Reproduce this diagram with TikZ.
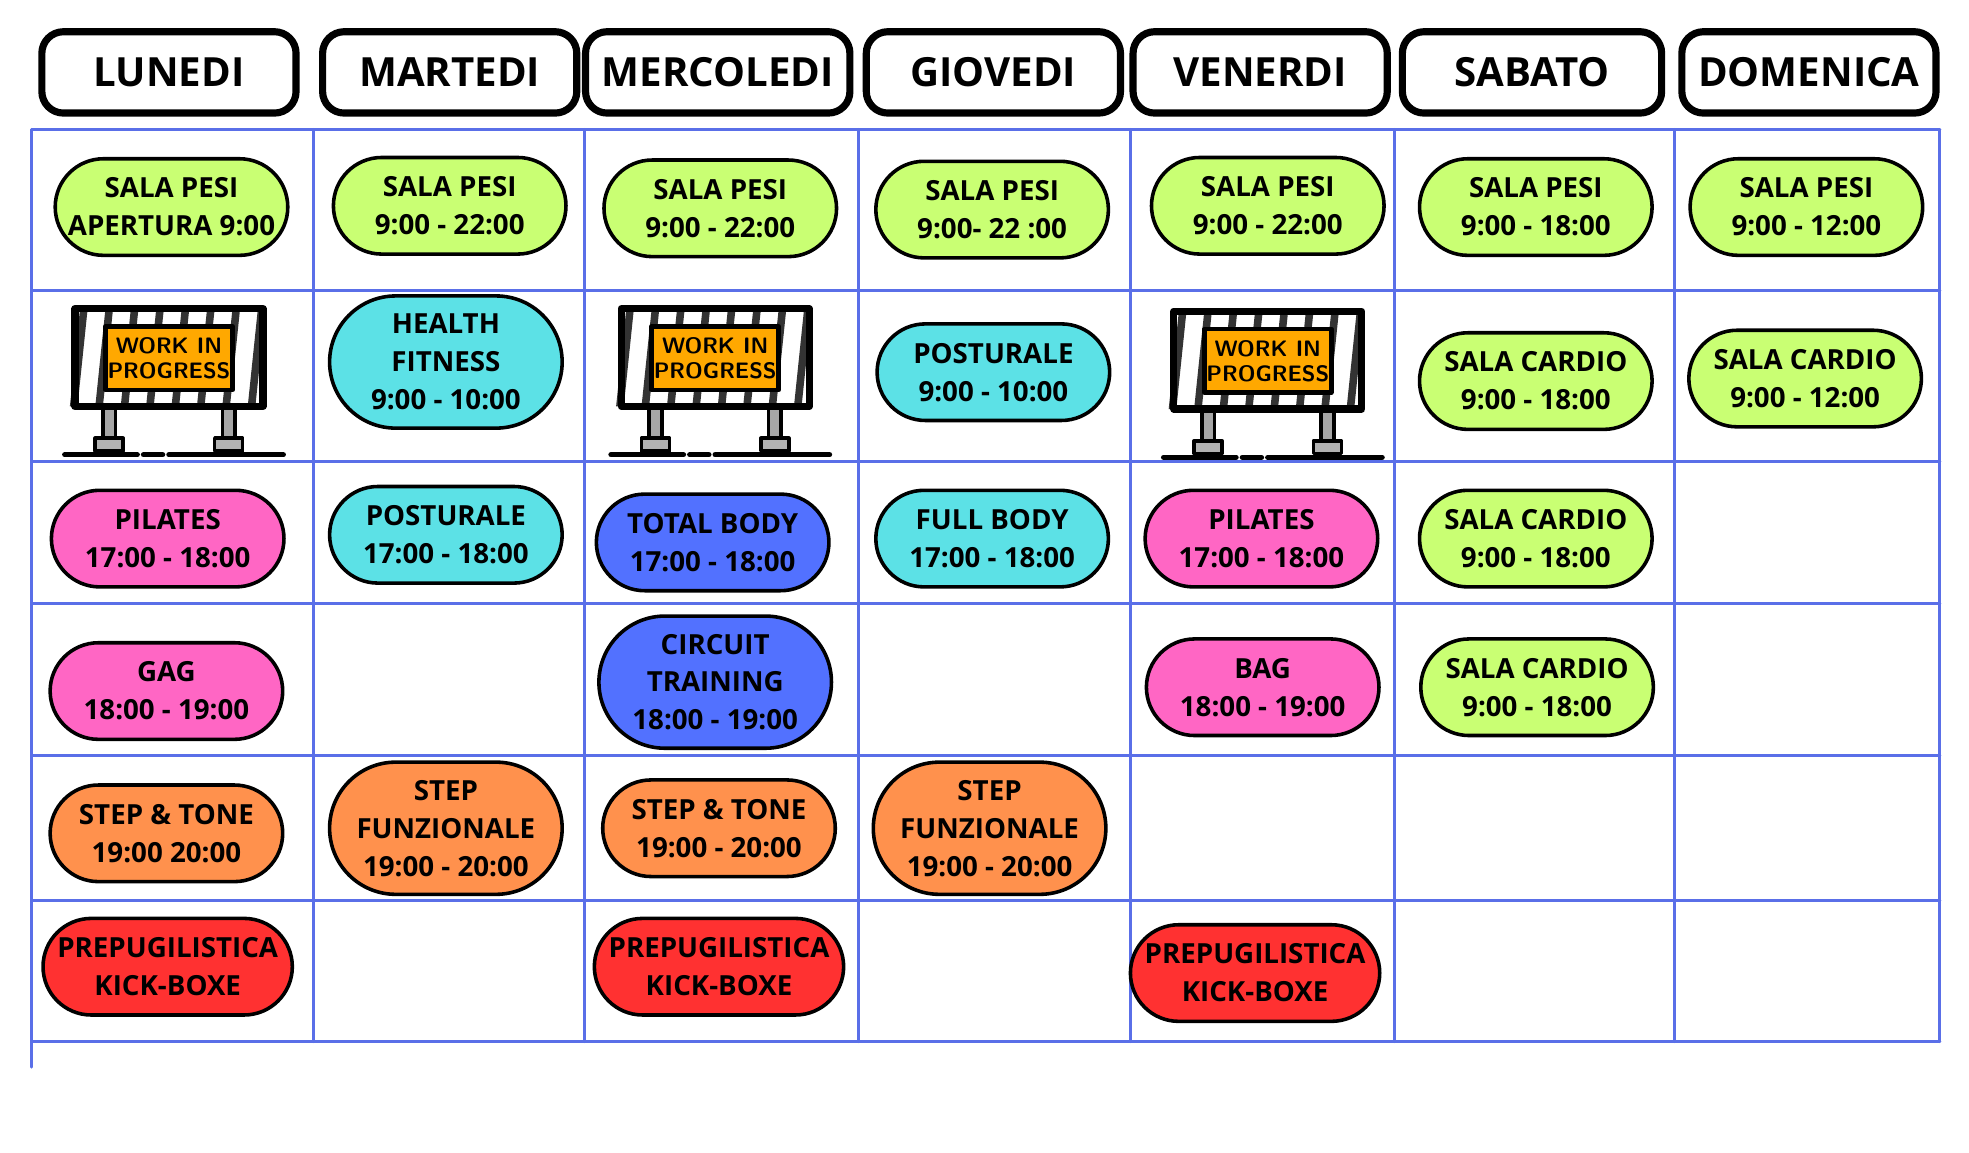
\documentclass[tikz,border=0pt]{standalone}
\usepackage{fontspec}
\setmainfont{Open Sans}
\usetikzlibrary{shapes.misc}
\definecolor{pesi}{HTML}{C9FF73}
\definecolor{azzurro}{HTML}{5CE1E6}
\definecolor{rosa}{HTML}{FF66C4}
\definecolor{blu}{HTML}{5271FF}
\definecolor{arancio}{HTML}{FF914D}
\definecolor{rosso}{HTML}{FF3131}
\definecolor{griglia}{HTML}{5A6FE8}
\definecolor{cartello}{HTML}{FFA800}
\tikzset{
  giorno/.style={draw,line width=1.6pt,rounded corners=0.17cm,minimum width=2cm,minimum height=0.64cm,
    font=\fontsize{9}{10}\selectfont\bfseries},
  corso/.style={rounded rectangle,draw,line width=0.8pt,fill=#1,minimum width=1.9cm,minimum height=0.76cm,
    align=center,inner sep=1pt,font=\fontsize{6.2}{8.5}\selectfont\bfseries},
  alto/.style={minimum height=1.04cm},
}
% cartello lavori in corso
\newcommand{\lavori}[2]{%
\begin{scope}[shift={(#1,#2)}]
 \fill[gray!70] (-52,25) rectangle (-42,58) (42,25) rectangle (52,58);
 \draw[line width=0.8pt] (-52,25) rectangle (-42,58) (42,25) rectangle (52,58);
 \fill[gray!60,draw=black,line width=0.8pt] (-58,50) rectangle (-36,60) (36,50) rectangle (58,60);
 \draw[line width=1.2pt] (-82,63) -- (-25,63) (-20,63) -- (-5,63) (0,63) -- (90,63);
 \fill[white,draw=black,line width=1pt] (-74,-52) rectangle (74,25);
 \foreach \s in {-70,-50,...,70}
   \fill[black!80] (\s,-52) -- (\s+6,-52) -- (\s-2,25) -- (\s-8,25) -- cycle;
 \fill[cartello,draw=black,line width=1pt] (-50,-38) rectangle (50,12);
 \node[font=\fontsize{5}{5.6}\selectfont\bfseries\sffamily,align=center,text=black] at (0,-13) {WORK IN\\PROGRESS};
 \draw[line width=1.6pt] (-74,-52) rectangle (74,25);
\end{scope}}

\begin{document}
\begin{tikzpicture}[x=0.01cm,y=-0.01cm,line cap=round,line join=round]
\useasboundingbox (0,0) rectangle (1550,907);

% griglia
\foreach \x in {25,247,460,676,890,1098,1318,1527}
  \draw[griglia,line width=0.7pt] (\x,102) -- (\x,820);
\draw[griglia,line width=0.7pt] (25,820) -- (25,840);
\foreach \y in {102,229,363,475,595,709,820}
  \draw[griglia,line width=0.7pt] (25,\y) -- (1527,\y);

% giorni
\node[giorno] (lun) at (133,57) {LUNEDI};
\node[giorno] (mar) at (354,57) {MARTEDI};
\node[giorno,minimum width=2.08cm] (mer) at (565,57) {MERCOLEDI};
\node[giorno] (gio) at (782,57) {GIOVEDI};
\node[giorno] (ven) at (992,57) {VENERDI};
\node[giorno,minimum width=2.04cm] (sab) at (1206,57) {SABATO};
\node[giorno] (dom) at (1424,57) {DOMENICA};

% sala pesi
\node[corso=pesi] (lunA) at (135,163) {SALA PESI\\APERTURA 9:00};
\node[corso=pesi] (marA) at (354,162) {SALA PESI\\9:00 - 22:00};
\node[corso=pesi] (merA) at (567,164) {SALA PESI\\9:00 - 22:00};
\node[corso=pesi] (gioA) at (781,165) {SALA PESI\\9:00- 22 :00};
\node[corso=pesi] (venA) at (998,162) {SALA PESI\\9:00 - 22:00};
\node[corso=pesi] (sabA) at (1209,163) {SALA PESI\\9:00 - 18:00};
\node[corso=pesi] (domA) at (1422,163) {SALA PESI\\9:00 - 12:00};

% seconda riga
\lavori{133}{295}
\node[corso=azzurro,alto] (marB) at (351,285) {HEALTH\\FITNESS\\9:00 - 10:00};
\lavori{563}{295}
\node[corso=azzurro] (gioB) at (782,293) {POSTURALE\\9:00 - 10:00};
\lavori{998}{297}
\node[corso=pesi] (sabB) at (1209,300) {SALA CARDIO\\9:00 - 18:00};
\node[corso=pesi] (domB) at (1421,298) {SALA CARDIO\\9:00 - 12:00};

% terza riga
\node[corso=rosa] (lunC) at (132,424) {PILATES\\17:00 - 18:00};
\node[corso=azzurro] (marC) at (351,421) {POSTURALE\\17:00 - 18:00};
\node[corso=blu] (merC) at (561,427) {TOTAL BODY\\17:00 - 18:00};
\node[corso=azzurro] (gioC) at (781,424) {FULL BODY\\17:00 - 18:00};
\node[corso=rosa] (venC) at (993,424) {PILATES\\17:00 - 18:00};
\node[corso=pesi] (sabC) at (1209,424) {SALA CARDIO\\9:00 - 18:00};

% quarta riga
\node[corso=rosa] (lunD) at (131,544) {GAG\\18:00 - 19:00};
\node[corso=blu,alto] (merD) at (563,537) {CIRCUIT\\TRAINING\\18:00 - 19:00};
\node[corso=rosa] (venD) at (994,541) {BAG\\18:00 - 19:00};
\node[corso=pesi] (sabD) at (1210,541) {SALA CARDIO\\9:00 - 18:00};

% quinta riga
\node[corso=arancio] (lunE) at (131,656) {STEP \& TONE\\19:00 20:00};
\node[corso=arancio,alto] (marE) at (351,652) {STEP\\FUNZIONALE\\19:00 - 20:00};
\node[corso=arancio] (merE) at (566,652) {STEP \& TONE\\19:00 - 20:00};
\node[corso=arancio,alto] (gioE) at (779,652) {STEP\\FUNZIONALE\\19:00 - 20:00};

% sesta riga
\node[corso=rosso] (lunF) at (132,761) {PREPUGILISTICA\\KICK-BOXE};
\node[corso=rosso] (merF) at (566,761) {PREPUGILISTICA\\KICK-BOXE};
\node[corso=rosso] (venF) at (988,766) {PREPUGILISTICA\\KICK-BOXE};
\end{tikzpicture}
\end{document}
